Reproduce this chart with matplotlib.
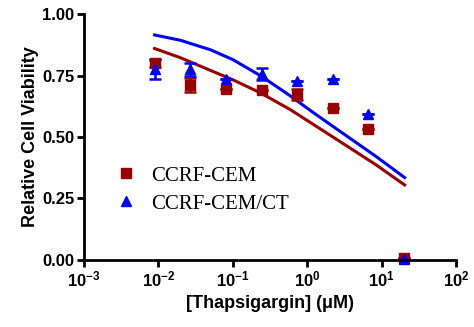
import numpy as np
import matplotlib
matplotlib.use("Agg")
import matplotlib.pyplot as plt
from matplotlib.ticker import FixedLocator, FixedFormatter, FormatStrFormatter, NullLocator

plt.rcParams["font.family"] = ["Liberation Sans", "DejaVu Sans"]
plt.rcParams["mathtext.fontset"] = "custom"
plt.rcParams["mathtext.rm"] = "Liberation Sans:bold"
plt.rcParams["mathtext.bf"] = "Liberation Sans:bold"
plt.rcParams["mathtext.default"] = "bf"

# measured points (uM)
conc = [0.0091, 0.027, 0.082, 0.247, 0.74, 2.22, 6.67, 20.0]
cem = [0.800, 0.712, 0.694, 0.690, 0.672, 0.617, 0.532, 0.010]
cem_err = [0.015, 0.030, 0.0, 0.0, 0.023, 0.0, 0.0, 0.0]
ct = [0.776, 0.775, 0.735, 0.755, 0.728, 0.736, 0.592, 0.005]
ct_err = [0.042, 0.027, 0.0, 0.024, 0.0, 0.0, 0.0, 0.0]

# fitted curves
fit_x = [0.0089, 0.020, 0.050, 0.10, 0.234, 0.589, 1.2, 3.02, 8.51, 20.4]
fit_cem = [0.860, 0.822, 0.771, 0.733, 0.680, 0.612, 0.552, 0.474, 0.386, 0.305]
fit_ct = [0.915, 0.893, 0.855, 0.815, 0.750, 0.668, 0.600, 0.515, 0.420, 0.335]

labels = ["CCRF-CEM", "CCRF-CEM/CT"]
xticks = [1e-3, 1e-2, 1e-1, 1e0, 1e1, 1e2]
xticklabels = [r"$\mathbf{10^{-3}}$", r"$\mathbf{10^{-2}}$", r"$\mathbf{10^{-1}}$",
               r"$\mathbf{10^{0}}$", r"$\mathbf{10^{1}}$", r"$\mathbf{10^{2}}$"]
red = "#990000"
blue = "#0000ff"

fig = plt.figure(figsize=(4.74, 3.27), dpi=100)
ax = fig.add_axes([0.177, 0.205, 0.785, 0.752])

ax.plot(fit_x, fit_cem, "-", color=red, lw=2.2)
ax.plot(fit_x, fit_ct, "-", color=blue, lw=2.2)

ax.errorbar(conc, cem, yerr=cem_err, fmt="s", color=red, ms=6.5,
            elinewidth=1.8, capsize=4, capthick=1.8, label=labels[0], clip_on=False)
ax.errorbar(conc, ct, yerr=ct_err, fmt="^", color=blue, ms=7,
            elinewidth=1.8, capsize=4, capthick=1.8, label=labels[1], clip_on=False)

ax.set_xscale("log")
ax.set_xlim(1e-3, 1e2)
ax.set_ylim(0, 1.0)
ax.xaxis.set_major_locator(FixedLocator(xticks))
ax.xaxis.set_major_formatter(FixedFormatter(xticklabels))
ax.xaxis.set_minor_locator(NullLocator())
ax.set_yticks([0, 0.25, 0.5, 0.75, 1.0])
ax.yaxis.set_major_formatter(FormatStrFormatter("%.2f"))

for s in ["top", "right"]:
    ax.spines[s].set_visible(False)
for s in ["left", "bottom"]:
    ax.spines[s].set_linewidth(2.0)
ax.tick_params(width=2.0, length=5, labelsize=12, pad=2)
for t in ax.get_yticklabels():
    t.set_fontweight("bold")

ax.set_xlabel("[Thapsigargin] (\u03bcM)", fontsize=13, fontweight="bold", labelpad=4)
ax.set_ylabel("Relative Cell Viability", fontsize=13, fontweight="bold", labelpad=2)

handles, _ = ax.get_legend_handles_labels()
handles = [h[0] for h in handles]
ax.legend(handles, labels, loc="center left", bbox_to_anchor=(0.03, 0.285),
          frameon=False, prop={"family": "Liberation Serif", "size": 15},
          handletextpad=0.6, labelspacing=0.4, handlelength=1.2)

fig.savefig("out.png", dpi=100)
